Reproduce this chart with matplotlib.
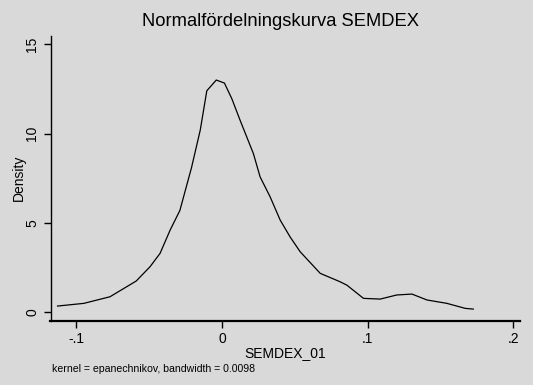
import matplotlib
matplotlib.use("Agg")
import matplotlib.pyplot as plt

x_vals = [-0.113, -0.095, -0.077, -0.059, -0.0495, -0.0426, -0.0357, -0.029, -0.021,
          -0.015, -0.0105, -0.004, 0.0016, 0.0067, 0.0124, 0.0215, 0.0261, 0.033,
          0.0399, 0.0467, 0.0536, 0.0674, 0.081, 0.0857, 0.0971, 0.1086, 0.12,
          0.1304, 0.1407, 0.1544, 0.167, 0.1725]
density = [0.35, 0.5, 0.87, 1.75, 2.55, 3.3, 4.6, 5.7, 8.1,
           10.2, 12.4, 13.0, 12.83, 11.95, 10.74, 8.88, 7.58, 6.46,
           5.16, 4.22, 3.39, 2.18, 1.71, 1.52, 0.78, 0.74, 0.97,
           1.02, 0.69, 0.5, 0.22, 0.18]
x_ticks = [-0.1, 0, 0.1, 0.2]
x_tick_labels = ["-.1", "0", ".1", ".2"]
y_ticks = [0, 5, 10, 15]
y_tick_labels = ["0", "5", "10", "15"]

bg = "#d9d9d9"
W, H = 533, 385
fig = plt.figure(figsize=(W / 100, H / 100), dpi=100, facecolor=bg)
plt.rcParams["font.family"] = ["Liberation Sans", "DejaVu Sans"]

left, right, top, bottom = 50.5, 520, 36, 320.5
ax = fig.add_axes([left / W, 1 - bottom / H, (right - left) / W, (bottom - top) / H])
ax.set_facecolor(bg)
ax.plot(x_vals, density, color="black", lw=0.9)

# x mapping: -0.1 -> 76.5px, 0.2 -> 513.3px
px_per = (513.3 - 76.5) / 0.3
ax.set_xlim(-0.1 - (76.5 - left) / px_per, 0.2 + (right - 513.3) / px_per)
# y mapping: 0 -> 312.3px, 15 -> 44.3px
py_per = (312.3 - 44.3) / 15
ax.set_ylim(0 - (bottom - 312.3) / py_per, 15 + (44.3 - top) / py_per)

for s in ["top", "right"]:
    ax.spines[s].set_visible(False)
ax.spines["left"].set_linewidth(1.0)
ax.spines["bottom"].set_linewidth(1.6)
ax.set_xticks(x_ticks)
ax.set_xticklabels(x_tick_labels, fontsize=10)
ax.set_yticks(y_ticks)
ax.set_yticklabels(y_tick_labels, fontsize=10, rotation=90, va="center")
ax.tick_params(axis="both", length=5, width=1, direction="out", pad=3, color="black")
ax.set_xlabel("SEMDEX_01", fontsize=10, labelpad=0)
ax.set_ylabel("Density", fontsize=10)
ax.yaxis.set_label_coords(-(left - 26) / (right - left), 0.5)

fig.text(281 / W, 1 - 22 / H, "Normalfördelningskurva SEMDEX", fontsize=13.2,
         ha="center", va="center")
fig.text(52 / W, 1 - 369 / H, "kernel = epanechnikov, bandwidth = 0.0098", fontsize=7.6,
         ha="left", va="center")

fig.savefig("out.png", dpi=100, facecolor=bg)
